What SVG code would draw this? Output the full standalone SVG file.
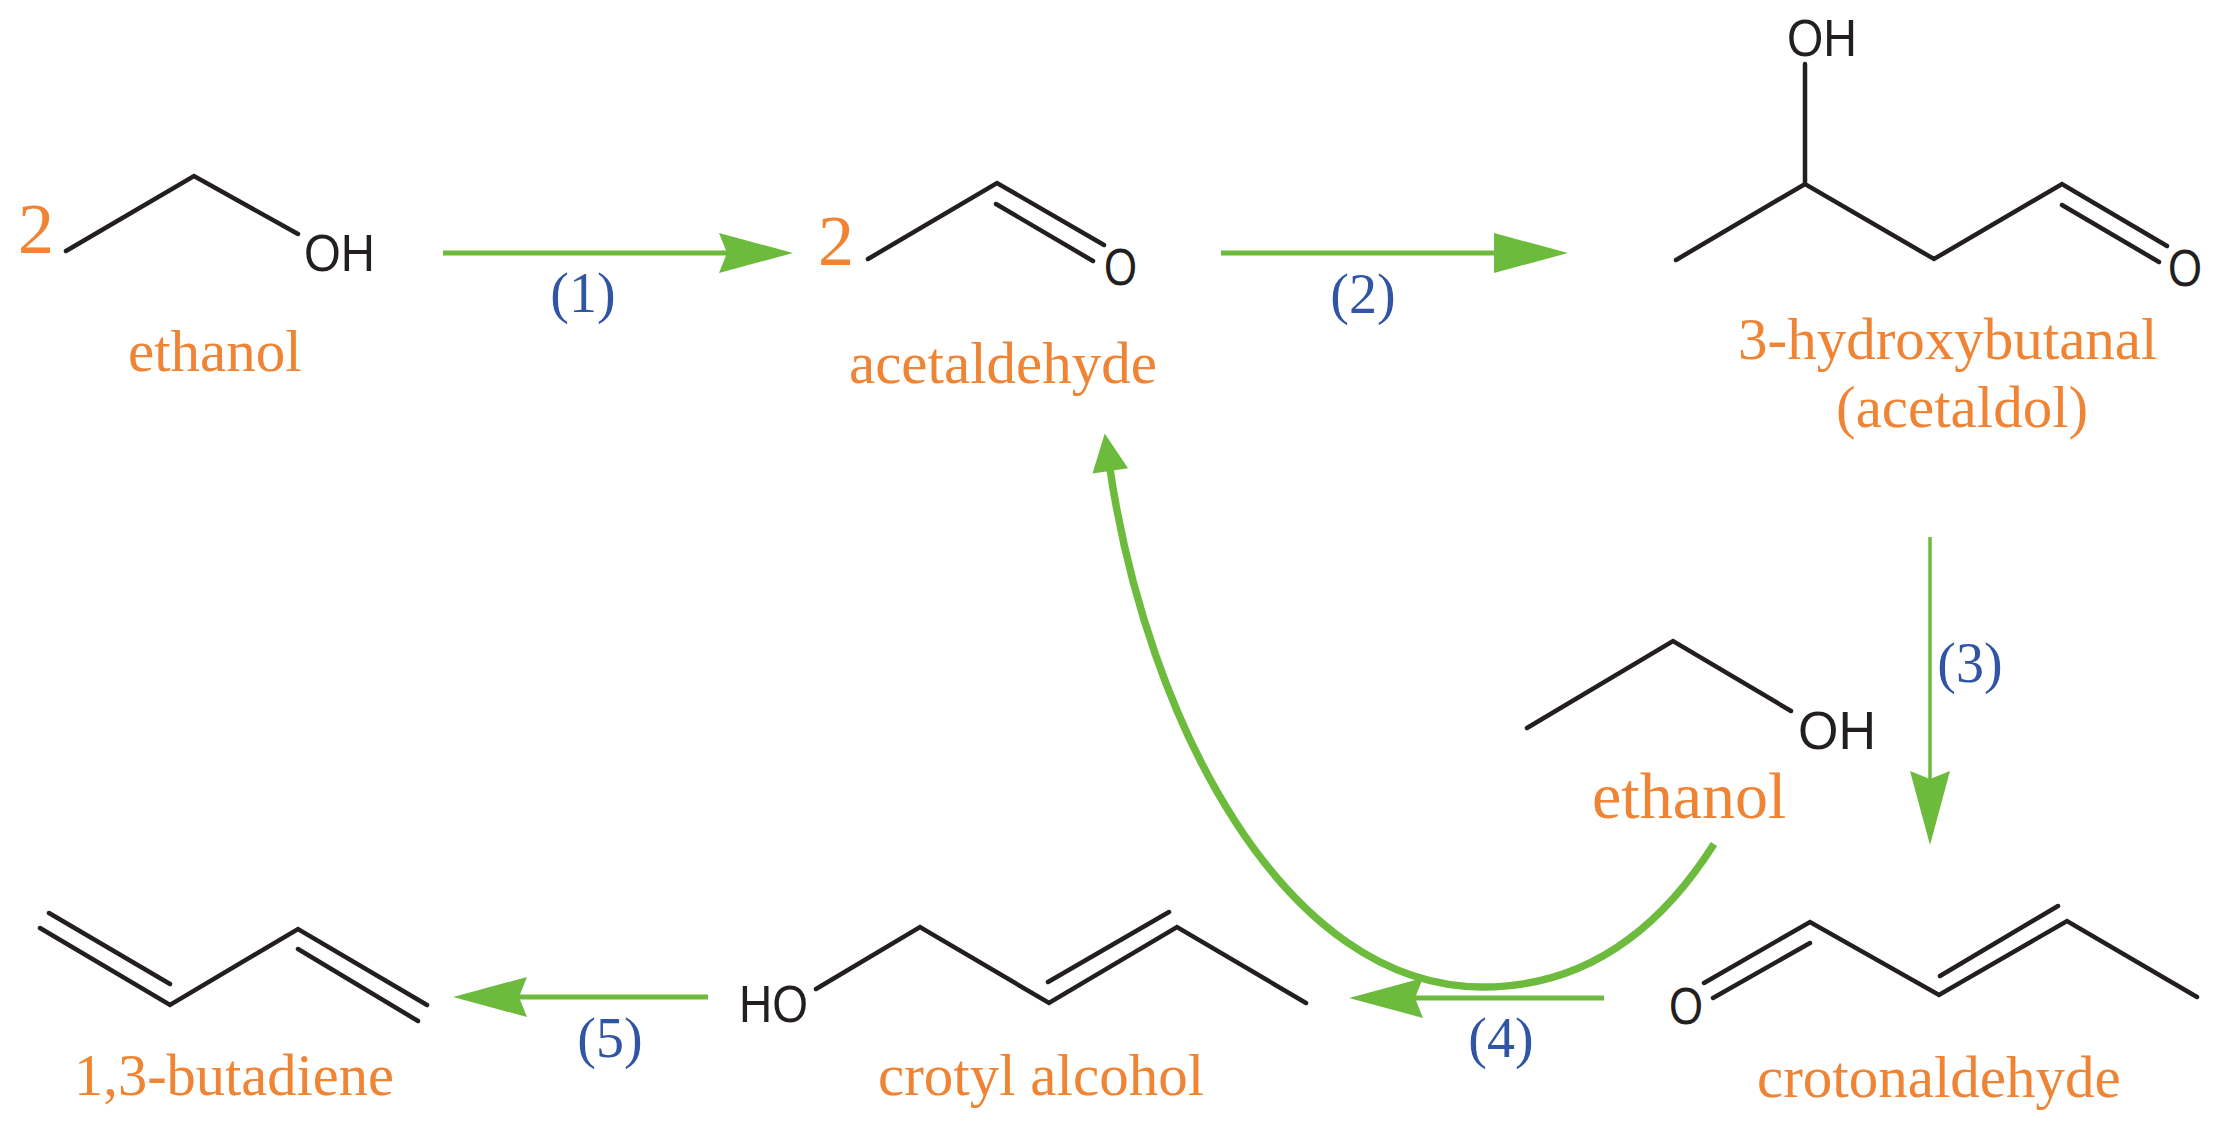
<svg xmlns="http://www.w3.org/2000/svg" width="2225" height="1128" viewBox="0 0 2225 1128">
<style>
.b{fill:none;stroke:#231f20;stroke-width:4.5;stroke-linecap:round;stroke-linejoin:miter}
.a{font-family:"Liberation Sans",Arial,sans-serif;font-size:52px;fill:#231f20}
.n{font-family:"Liberation Serif","Times New Roman",serif;font-size:59px;fill:#ee8434}
.c{font-family:"Liberation Serif","Times New Roman",serif;font-size:72px;fill:#ee8434}
.s{font-family:"Liberation Serif","Times New Roman",serif;font-size:56px;fill:#2f55a4;text-anchor:middle}
.g{fill:none;stroke:#6cbb3c;stroke-width:5}
</style>
<defs>
<marker id="notch" markerUnits="userSpaceOnUse" markerWidth="80" markerHeight="44" viewBox="0 0 80 44" refX="14" refY="22" orient="auto"><path d="M1,2 L75,22 L1,42 L9,22 Z" fill="#6cbb3c"/></marker>
<marker id="flat" markerUnits="userSpaceOnUse" markerWidth="80" markerHeight="44" viewBox="0 0 80 44" refX="5" refY="22" orient="auto"><path d="M1,2 L75,22 L1,42 Z" fill="#6cbb3c"/></marker>
<marker id="small" markerUnits="userSpaceOnUse" markerWidth="42" markerHeight="40" viewBox="0 0 42 40" refX="3" refY="20" orient="auto"><path d="M1,2 L39,20 L1,38 Z" fill="#6cbb3c"/></marker>
</defs>
<rect width="2225" height="1128" fill="#ffffff"/>
<g id="connectors">
<path class="g" d="M443,253 H732" marker-end="url(#notch)"/>
<path class="g" d="M1221,253 H1498" marker-end="url(#flat)"/>
<path class="g" style="stroke-width:3.5" d="M1930,537 V784" marker-end="url(#notch)"/>
<path class="g" d="M1604,998 H1410" marker-end="url(#notch)"/>
<path class="g" d="M708,997 H514" marker-end="url(#notch)"/>
<path class="g" style="stroke-width:7.5" d="M1714,844 C1650,945 1570,987 1483,987 C1283,987 1147,719 1110,469" marker-end="url(#small)"/>
</g>
<g id="step-labels">
<text class="s" x="583" y="312">(1)</text>
<text class="s" x="1363" y="313">(2)</text>
<text class="s" x="1970" y="682">(3)</text>
<text class="s" x="1501" y="1057">(4)</text>
<text class="s" x="610" y="1057">(5)</text>
</g>
<g id="ethanol-1">
<text class="c" x="18" y="253">2</text>
<path class="b" d="M66,251 L194,176 L298,234"/>
<text class="a" x="304" y="271" textLength="71" lengthAdjust="spacingAndGlyphs">OH</text>
<text class="n" x="128" y="371">ethanol</text>
</g>
<g id="acetaldehyde">
<text class="c" x="818" y="265">2</text>
<path class="b" d="M868,259 L997,183 L1104,245 M996,204 L1093,261"/>
<text class="a" x="1104" y="285" textLength="33" lengthAdjust="spacingAndGlyphs">O</text>
<text class="n" x="849" y="383">acetaldehyde</text>
</g>
<g id="acetaldol">
<path class="b" d="M1676,260 L1805,184 L1934,259 L2062,184 L2167,246 M2062,205 L2159,262 M1805,184 V64"/>
<text class="a" x="1787" y="56" textLength="70" lengthAdjust="spacingAndGlyphs">OH</text>
<text class="a" x="2168" y="286" textLength="34" lengthAdjust="spacingAndGlyphs">O</text>
<text class="n" x="1738" y="359">3-hydroxybutanal</text>
<text class="n" x="1836" y="427">(acetaldol)</text>
</g>
<g id="ethanol-2">
<path class="b" d="M1527,728 L1673,641 L1791,711"/>
<text class="a" style="font-size:54px" x="1798" y="749" textLength="78" lengthAdjust="spacingAndGlyphs">OH</text>
<text class="n" style="font-size:66px" x="1592" y="818">ethanol</text>
</g>
<g id="crotonaldehyde">
<path class="b" d="M2197,997 L2067,921 L1939,995 L1810,922 L1704,983 M1940,976 L2058,906 M1810,943 L1713,998"/>
<text class="a" x="1669" y="1024" textLength="34" lengthAdjust="spacingAndGlyphs">O</text>
<text class="n" x="1757" y="1097">crotonaldehyde</text>
</g>
<g id="crotyl-alcohol">
<path class="b" d="M816,989 L920,927 L1049,1003 L1177,927 L1306,1003 M1048,982 L1169,912"/>
<text class="a" x="739" y="1022" textLength="69" lengthAdjust="spacingAndGlyphs">HO</text>
<text class="n" x="878" y="1095">crotyl alcohol</text>
</g>
<g id="butadiene">
<path class="b" d="M40,928 L170,1005 L298,929 L427,1005 M49,913 L170,984 M298,949 L418,1021"/>
<text class="n" style="font-size:58.5px" x="74" y="1095">1,3-butadiene</text>
</g>
</svg>
